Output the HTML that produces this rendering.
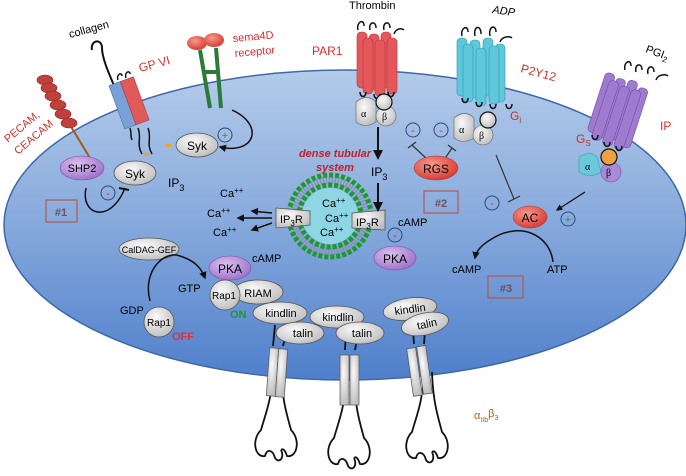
<!DOCTYPE html>
<html><head><meta charset="utf-8"><style>
html,body{margin:0;padding:0;background:#fff}
svg{display:block;font-family:"Liberation Sans",sans-serif}
</style></head><body>
<svg width="686" height="476" viewBox="0 0 686 476" xmlns="http://www.w3.org/2000/svg">
<defs>
<linearGradient id="cell" x1="0" y1="0" x2="0" y2="1">
<stop offset="0" stop-color="#b4cbea"/><stop offset="0.5" stop-color="#86a9dc"/><stop offset="1" stop-color="#4f7fcb"/>
</linearGradient>
<radialGradient id="grey" cx="0.4" cy="0.35" r="0.7"><stop offset="0" stop-color="#fafafa"/><stop offset="1" stop-color="#bdbdbd"/></radialGradient>
<radialGradient id="red" cx="0.4" cy="0.35" r="0.7"><stop offset="0" stop-color="#f59a8f"/><stop offset="1" stop-color="#d9362b"/></radialGradient>
<radialGradient id="purp" cx="0.4" cy="0.35" r="0.7"><stop offset="0" stop-color="#dcc2ee"/><stop offset="1" stop-color="#9b6ec9"/></radialGradient>
<marker id="ah" viewBox="0 0 10 10" refX="8" refY="5" markerWidth="5" markerHeight="5" orient="auto"><path d="M0,0L10,5L0,10z" fill="#111"/></marker>
<g id="cylR"><rect x="-5" y="0" width="10" height="56" rx="4" fill="#e4575a" stroke="#b8393c" stroke-width="0.6"/></g>
<g id="cylC"><rect x="-5" y="0" width="10" height="58" rx="4" fill="#5fc7db" stroke="#2f98ad" stroke-width="0.6"/></g>
<g id="cylP"><rect x="-5" y="0" width="10" height="62" rx="4" fill="#9f7bd0" stroke="#6f4ea3" stroke-width="0.6"/></g>
<g id="foot" fill="none" stroke="#111" stroke-width="1.8">
<path d="M-4,0 C-5,30 -12,45 -16,60 C-26,70 -22,88 -12,86 C-10,78 -4,80 -2,88 C2,94 8,88 4,80 M4,0 C5,30 10,45 14,60 C24,70 20,88 10,86 C8,80 6,78 4,80"/>
</g>
</defs>

<!-- cell -->
<ellipse cx="345" cy="225" rx="341" ry="155" fill="url(#cell)" stroke="#3f68a8" stroke-width="1.5"/>

<!-- collagen / GPVI -->
<path d="M92,50 C90,40 102,38 102,48 C102,60 112,80 118,95" fill="none" stroke="#111" stroke-width="2"/>
<text x="70" y="38" font-size="11" transform="rotate(-15 70 38)">collagen</text>
<g transform="rotate(-20 128 100)">
<rect x="115" y="80" width="12" height="46" fill="#7aa0d8" stroke="#456fa8" stroke-width="0.6"/>
<rect x="127" y="80" width="14" height="46" fill="#e05a5a" stroke="#a83a3a" stroke-width="0.6"/>
</g>
<path d="M118,80 c-2,-6 4,-8 4,-4 M126,78 c-2,-6 4,-8 4,-4" fill="none" stroke="#111" stroke-width="1.5"/>
<path d="M138,128 c4,10 -2,16 4,26 M148,128 c4,10 -2,16 4,26 M130,128 c2,6 0,8 2,12" fill="none" stroke="#111" stroke-width="1.5"/>
<text x="140" y="72" font-size="12" fill="#d2302c" transform="rotate(-15 140 72)">GP VI</text>
<rect x="144" y="153" width="5" height="3" fill="#f0a030"/><rect x="166" y="144" width="5" height="3" fill="#f0a030"/>

<!-- PECAM -->
<line x1="70" y1="125" x2="90" y2="158" stroke="#a05a20" stroke-width="2"/>
<g fill="#c0413b" stroke="#8a2520" stroke-width="0.6">
<ellipse cx="45" cy="80" rx="8" ry="5"/><ellipse cx="49" cy="88" rx="8" ry="5"/><ellipse cx="53" cy="96" rx="8" ry="5"/>
<ellipse cx="58" cy="105" rx="8" ry="5"/><ellipse cx="63" cy="114" rx="8" ry="5"/><ellipse cx="69" cy="123" rx="8" ry="5"/>
</g>
<text x="8" y="143" font-size="11" fill="#d2302c" transform="rotate(-40 8 143)">PECAM,</text>
<text x="18" y="155" font-size="11" fill="#d2302c" transform="rotate(-40 18 155)">CEACAM</text>
<ellipse cx="82" cy="168" rx="22" ry="12" fill="url(#purp)" stroke="#7a55a8" stroke-width="0.6"/>
<text x="82" y="172" font-size="11" text-anchor="middle">SHP2</text>
<ellipse cx="135" cy="173" rx="21" ry="12" fill="url(#grey)" stroke="#555" stroke-width="0.8"/>
<text x="135" y="178" font-size="12" text-anchor="middle">Syk</text>
<ellipse cx="197" cy="145" rx="21" ry="12" fill="url(#grey)" stroke="#555" stroke-width="0.8"/>
<text x="197" y="150" font-size="12" text-anchor="middle">Syk</text>
<path d="M86,188 C80,215 110,225 125,188" fill="none" stroke="#111" stroke-width="1.5"/>
<path d="M119,188 l10,2" stroke="#111" stroke-width="2"/>
<circle cx="108" cy="193" r="7" fill="none" stroke="#2d4a78" stroke-width="1"/><text x="108" y="197" font-size="11" text-anchor="middle" fill="#d2302c">-</text>
<rect x="46" y="200" width="31" height="22" fill="none" stroke="#b5574f" stroke-width="1.2"/>
<text x="61" y="216" font-size="11" font-weight="bold" text-anchor="middle" fill="#70505a">#1</text>
<text x="168" y="187" font-size="12">IP<tspan font-size="9" dy="4">3</tspan></text>

<!-- sema4D -->
<g stroke="#2a7a3a" stroke-width="4" fill="none"><path d="M200,50 L210,108 M216,48 L221,108 M204,72 L218,72"/></g>
<ellipse cx="197" cy="43" rx="10" ry="7" fill="url(#red)"/><ellipse cx="214" cy="40" rx="10" ry="7" fill="url(#red)"/>
<text x="233" y="42" font-size="11" fill="#d2302c" transform="rotate(-5 233 42)">sema4D</text>
<text x="235" y="57" font-size="11" fill="#d2302c" transform="rotate(-5 235 57)">receptor</text>
<path d="M232,110 C265,125 255,155 220,147" fill="none" stroke="#111" stroke-width="1.5" marker-end="url(#ah)"/>
<circle cx="225" cy="135" r="7" fill="none" stroke="#2d4a78" stroke-width="1"/><text x="225" y="139" font-size="11" text-anchor="middle" fill="#2a9a3a">+</text>

<!-- DTS -->
<text x="335" y="157" font-size="11" font-style="italic" font-weight="bold" fill="#c0202a" text-anchor="middle">dense tubular</text>
<text x="335" y="171" font-size="11" font-style="italic" font-weight="bold" fill="#c0202a" text-anchor="middle">system</text>
<circle cx="330" cy="216" r="36" fill="none" stroke="#8a8fb8" stroke-width="8" stroke-dasharray="1.5 1.5"/>
<circle cx="330" cy="216" r="41" fill="none" stroke="#1c9a2a" stroke-width="5" stroke-dasharray="4 2"/>
<circle cx="330" cy="216" r="31" fill="none" stroke="#1c9a2a" stroke-width="5" stroke-dasharray="4 2"/>
<circle cx="330" cy="216" r="28" fill="#8fd6e4"/>
<text x="322" y="207" font-size="11">Ca<tspan font-size="8" dy="-4">++</tspan></text>
<text x="325" y="222" font-size="11">Ca<tspan font-size="8" dy="-4">++</tspan></text>
<text x="320" y="236" font-size="11">Ca<tspan font-size="8" dy="-4">++</tspan></text>
<path d="M276,208 L310,211 L310,225 L276,228z" fill="url(#grey)" stroke="#555" stroke-width="0.8"/>
<text x="280" y="223" font-size="11">IP<tspan font-size="8" dy="3">3</tspan><tspan dy="-3">R</tspan></text>
<path d="M352,213 L385,210 L385,230 L352,228z" fill="url(#grey)" stroke="#555" stroke-width="0.8"/>
<text x="356" y="226" font-size="11">IP<tspan font-size="8" dy="3">3</tspan><tspan dy="-3">R</tspan></text>
<g stroke="#111" stroke-width="1.5"><line x1="272" y1="213" x2="252" y2="211" marker-end="url(#ah)"/><line x1="272" y1="218" x2="238" y2="218" marker-end="url(#ah)"/><line x1="272" y1="223" x2="252" y2="230" marker-end="url(#ah)"/></g>
<text x="220" y="197" font-size="11">Ca<tspan font-size="8" dy="-4">++</tspan></text>
<text x="207" y="217" font-size="11">Ca<tspan font-size="8" dy="-4">++</tspan></text>
<text x="213" y="236" font-size="11">Ca<tspan font-size="8" dy="-4">++</tspan></text>

<!-- PAR1 -->
<text x="349" y="9" font-size="11">Thrombin</text>
<text x="312" y="55" font-size="12" fill="#d2302c">PAR1</text>
<g><use href="#cylR" x="362" y="32"/><use href="#cylR" x="374" y="34"/><use href="#cylR" x="386" y="32"/><use href="#cylR" x="368" y="38"/><use href="#cylR" x="380" y="40"/><use href="#cylR" x="392" y="38"/></g>
<path d="M358,30 c-2,-8 6,-12 6,-4 M370,30 c-2,-8 6,-10 6,-2 M384,30 c-2,-8 6,-10 6,-2 M394,34 c2,-6 8,-6 10,-4" fill="none" stroke="#111" stroke-width="1.5"/>
<path d="M360,92 c0,6 6,6 6,0 M374,94 c0,6 6,6 6,0 M388,92 c0,6 6,6 6,0" fill="none" stroke="#111" stroke-width="1.5"/>
<path d="M356,102 q11,-9 20,0 l0,20 q-11,7 -20,0z" fill="url(#grey)" stroke="#666" stroke-width="0.6"/>
<circle cx="386" cy="116" r="10" fill="url(#grey)" stroke="#666" stroke-width="0.6"/>
<circle cx="384" cy="102" r="8" fill="url(#grey)" stroke="#111" stroke-width="1.2"/>
<text x="361" y="117" font-size="10" font-family="Liberation Serif">α</text><text x="382" y="120" font-size="10" font-family="Liberation Serif">β</text>
<line x1="378" y1="127" x2="378" y2="158" stroke="#111" stroke-width="2" marker-end="url(#ah)"/>
<text x="371" y="176" font-size="12">IP<tspan font-size="9" dy="4">3</tspan></text>
<line x1="378" y1="183" x2="378" y2="210" stroke="#111" stroke-width="2" marker-end="url(#ah)"/>
<circle cx="413" cy="130" r="7" fill="none" stroke="#2d4a78" stroke-width="1"/><text x="413" y="134" font-size="11" text-anchor="middle" fill="#d2302c">-</text>
<circle cx="441" cy="130" r="7" fill="none" stroke="#2d4a78" stroke-width="1"/><text x="441" y="134" font-size="11" text-anchor="middle" fill="#d2302c">-</text>
<g stroke="#333" stroke-width="1.2"><line x1="428" y1="160" x2="412" y2="145"/><line x1="408" y1="148" x2="416" y2="142"/><line x1="444" y1="160" x2="452" y2="148"/><line x1="448" y1="145" x2="456" y2="151"/></g>
<ellipse cx="436" cy="168" rx="22" ry="12" fill="url(#red)" stroke="#a33" stroke-width="0.5"/>
<text x="436" y="173" font-size="12" text-anchor="middle">RGS</text>
<rect x="424" y="191" width="34" height="22" fill="none" stroke="#b5574f" stroke-width="1.2"/>
<text x="441" y="207" font-size="11" font-weight="bold" text-anchor="middle" fill="#70505a">#2</text>
<text x="398" y="226" font-size="11">cAMP</text>
<circle cx="395" cy="235" r="7" fill="none" stroke="#2d4a78" stroke-width="1"/><text x="395" y="239" font-size="11" text-anchor="middle" fill="#d2302c">-</text>
<ellipse cx="395" cy="258" rx="21" ry="12" fill="url(#purp)" stroke="#7a55a8" stroke-width="0.6"/>
<text x="395" y="263" font-size="12" text-anchor="middle">PKA</text>

<!-- P2Y12 -->
<text x="492" y="13" font-size="11" font-style="italic" transform="rotate(8 492 13)">ADP</text>
<g><use href="#cylC" x="462" y="38"/><use href="#cylC" x="475" y="40"/><use href="#cylC" x="488" y="38"/><use href="#cylC" x="500" y="44"/><use href="#cylC" x="468" y="44"/><use href="#cylC" x="481" y="48"/><use href="#cylC" x="494" y="46"/></g>
<path d="M462,36 c-2,-8 6,-12 6,-4 M475,36 c-2,-10 6,-12 6,-2 M490,36 c-2,-10 6,-12 6,-4 M500,42 c2,-6 10,-6 12,-4" fill="none" stroke="#111" stroke-width="1.5"/>
<path d="M462,98 c0,6 6,6 6,0 M476,102 c0,6 6,6 6,0 M490,104 c0,6 6,6 6,0 M506,104 c0,6 6,6 6,0" fill="none" stroke="#111" stroke-width="1.5"/>
<text x="520" y="72" font-size="12" fill="#d2302c" transform="rotate(15 520 72)">P2Y12</text>
<path d="M454,118 q11,-9 20,0 l0,20 q-11,7 -20,0z" fill="url(#grey)" stroke="#666" stroke-width="0.6"/>
<circle cx="483" cy="135" r="10" fill="url(#grey)" stroke="#666" stroke-width="0.6"/>
<circle cx="488" cy="120" r="8" fill="url(#grey)" stroke="#111" stroke-width="1.2"/>
<text x="459" y="133" font-size="10" font-family="Liberation Serif">α</text><text x="479" y="139" font-size="10" font-family="Liberation Serif">β</text>
<text x="510" y="120" font-size="12" fill="#c0302c">G<tspan font-size="8" dy="3">i</tspan></text>
<line x1="496" y1="155" x2="514" y2="199" stroke="#333" stroke-width="1.2"/><line x1="508" y1="202" x2="520" y2="196" stroke="#333" stroke-width="1.2"/>
<circle cx="492" cy="203" r="7" fill="none" stroke="#2d4a78" stroke-width="1"/><text x="492" y="207" font-size="11" text-anchor="middle" fill="#d2302c">-</text>

<!-- IP receptor -->
<text x="645" y="52" font-size="11" transform="rotate(20 645 52)">PGI<tspan font-size="8" dy="3">2</tspan></text>
<g transform="rotate(18 620 110)"><use href="#cylP" x="600" y="78"/><use href="#cylP" x="612" y="80"/><use href="#cylP" x="624" y="78"/><use href="#cylP" x="636" y="82"/><use href="#cylP" x="606" y="84"/><use href="#cylP" x="618" y="86"/><use href="#cylP" x="630" y="86"/></g>
<path d="M625,70 c-2,-8 6,-12 6,-4 M636,72 c-2,-8 6,-10 6,-2 M648,74 c-2,-8 6,-10 6,-2 M656,80 c2,-6 10,-6 12,-4" fill="none" stroke="#111" stroke-width="1.5"/>
<path d="M592,135 c0,6 6,6 6,0 M604,142 c0,6 6,6 6,0 M616,146 c0,6 6,6 6,0" fill="none" stroke="#111" stroke-width="1.5"/>
<text x="660" y="130" font-size="12" fill="#d2302c">IP</text>
<text x="576" y="143" font-size="12" fill="#c0302c">G<tspan font-size="8" dy="3">S</tspan></text>
<path d="M579,157 q11,-7 18,0 l4,15 q-11,7 -22,0z" fill="#6cc9dc" stroke="#3a9ab0" stroke-width="0.6"/>
<circle cx="611" cy="172" r="10" fill="#a98ad6" stroke="#7a55a8" stroke-width="0.6"/>
<circle cx="609" cy="157" r="8" fill="#f0a040" stroke="#111" stroke-width="1.2"/>
<text x="585" y="170" font-size="10" font-family="Liberation Serif">α</text><text x="606" y="176" font-size="10" font-family="Liberation Serif">β</text>
<line x1="585" y1="192" x2="557" y2="210" stroke="#111" stroke-width="1.3" marker-end="url(#ah)"/>
<ellipse cx="530" cy="217" rx="17" ry="11" fill="url(#red)" stroke="#a33" stroke-width="0.5"/>
<text x="530" y="222" font-size="12" text-anchor="middle">AC</text>
<circle cx="568" cy="219" r="7" fill="none" stroke="#2d4a78" stroke-width="1"/><text x="568" y="223" font-size="11" text-anchor="middle" fill="#2a9a3a">+</text>
<path d="M553,262 C550,235 520,220 490,240 C480,246 476,252 475,258" fill="none" stroke="#111" stroke-width="1.5" marker-end="url(#ah)"/>
<text x="452" y="273" font-size="11">cAMP</text>
<text x="547" y="273" font-size="11">ATP</text>
<rect x="488" y="276" width="35" height="22" fill="none" stroke="#b5574f" stroke-width="1.2"/>
<text x="506" y="292" font-size="11" font-weight="bold" text-anchor="middle" fill="#70505a">#3</text>

<!-- Rap1 area -->
<ellipse cx="149" cy="249" rx="30" ry="11" fill="url(#grey)" stroke="#555" stroke-width="0.8"/>
<text x="149" y="253" font-size="9" text-anchor="middle">CalDAG-GEF</text>
<path d="M150,301 C142,270 165,250 180,256 C192,260 200,265 205,278" fill="none" stroke="#111" stroke-width="1.5" marker-end="url(#ah)"/>
<ellipse cx="230" cy="268" rx="21" ry="12" fill="url(#purp)" stroke="#7a55a8" stroke-width="0.6"/>
<text x="230" y="273" font-size="12" text-anchor="middle">PKA</text>
<text x="252" y="262" font-size="11">cAMP</text>
<text x="178" y="292" font-size="11">GTP</text>
<ellipse cx="258" cy="292" rx="25" ry="12" fill="url(#grey)" stroke="#555" stroke-width="0.8"/>
<text x="258" y="297" font-size="11" text-anchor="middle">RIAM</text>
<circle cx="225" cy="295" r="15" fill="url(#grey)" stroke="#555" stroke-width="0.8"/>
<text x="224" y="299" font-size="10" text-anchor="middle">Rap1</text>
<text x="230" y="318" font-size="11" font-weight="bold" fill="#1e9a30">ON</text>
<text x="120" y="314" font-size="11">GDP</text>
<circle cx="159" cy="322" r="15" fill="url(#grey)" stroke="#555" stroke-width="0.8"/>
<text x="159" y="326" font-size="10" text-anchor="middle">Rap1</text>
<text x="172" y="340" font-size="11" font-weight="bold" fill="#e03030">OFF</text>

<!-- integrins -->
<use href="#foot" x="277" y="370"/>
<use href="#foot" x="350" y="378"/>
<use href="#foot" x="428" y="372"/>
<g fill="none" stroke="#111" stroke-width="1.8">
<path d="M273,346 L275,325 M283,346 L287,330 M345,350 L346,330 M355,350 L358,333 M414,344 L412,318 M424,344 L425,330"/>
</g>
<g fill="url(#grey)" stroke="#555" stroke-width="0.7">
<rect x="268" y="348" width="9" height="48" transform="rotate(4 272 372)"/><rect x="277" y="349" width="9" height="48" transform="rotate(4 281 373)"/>
<rect x="340" y="355" width="9" height="50"/><rect x="350" y="355" width="9" height="50"/>
<rect x="410" y="348" width="9" height="48" transform="rotate(-8 414 372)"/><rect x="420" y="346" width="9" height="48" transform="rotate(-8 424 370)"/>
</g>
<g fill="url(#grey)" stroke="#555" stroke-width="0.8">
<ellipse cx="280" cy="313" rx="27" ry="11"/><ellipse cx="300" cy="333" rx="24" ry="11"/>
<ellipse cx="337" cy="317" rx="27" ry="11"/><ellipse cx="360" cy="333" rx="24" ry="11"/>
<ellipse cx="410" cy="309" rx="27" ry="11" transform="rotate(-8 410 309)"/><ellipse cx="425" cy="324" rx="24" ry="11" transform="rotate(-12 425 324)"/>
</g>
<g font-size="11" text-anchor="middle">
<text x="281" y="317">kindlin</text><text x="303" y="337">talin</text>
<text x="338" y="321">kindlin</text><text x="362" y="337">talin</text>
<text x="410" y="313" transform="rotate(-8 410 309)">kindlin</text><text x="427" y="328" transform="rotate(-12 425 324)">talin</text>
</g>
<text x="474" y="419" font-size="11" fill="#b06010">α<tspan font-size="7" dy="3">IIb</tspan><tspan dy="-5">β</tspan><tspan font-size="7" dy="3">3</tspan></text>
</svg>
</body></html>
